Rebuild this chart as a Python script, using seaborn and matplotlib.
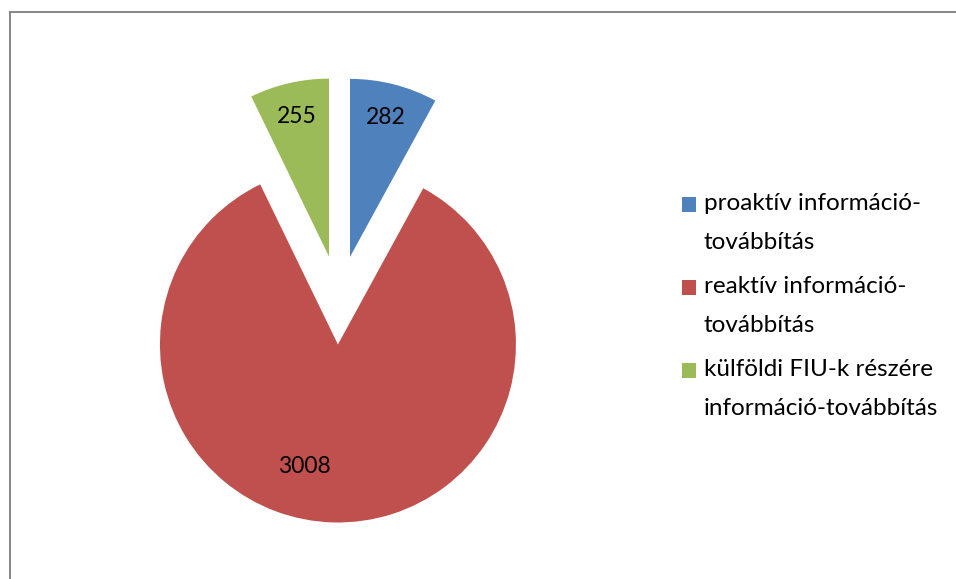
import matplotlib
matplotlib.use("Agg")
import matplotlib.pyplot as plt
import seaborn as sns
import numpy as np
import pandas as pd
from matplotlib.lines import Line2D
from matplotlib.patches import Patch, Rectangle
from matplotlib.legend_handler import HandlerBase

categories = ["proaktív információ-\ntovábbítás",
              "reaktív információ-\ntovábbítás",
              "külföldi FIU-k részére\ninformáció-továbbítás"]
values = [282, 3008, 255]
colors = ["#4F81BD", "#C0504D", "#9BBB59"]

df = pd.DataFrame({"category": categories, "value": values})

sns.set_theme(style="white")
plt.rcParams['font.family'] = ['Lato', 'DejaVu Sans']

W, H = 956, 579
fig = plt.figure(figsize=(W / 100, H / 100), dpi=100)

# pie axes (pixel geometry)
cx, cy_top, R, half = 339, 300, 178, 235
cy = H - cy_top
ax = fig.add_axes([(cx - half) / W, (cy - half) / H, 2 * half / W, 2 * half / H])

total = df["value"].sum()
wedges, texts, autotexts = ax.pie(
    df["value"], colors=colors, startangle=90, counterclock=False,
    explode=[0.25] * len(values), radius=1,
    autopct=lambda p: f"{int(round(p * total / 100))}", pctdistance=0.81,
    wedgeprops=dict(linewidth=0), textprops=dict(fontsize=16.5, color="black"))

# adjust the big slice label (Excel best-fit placement)
w = wedges[1]
ang = np.deg2rad(-105.6)
autotexts[1].set_position((w.center[0] + 0.71 * np.cos(ang), w.center[1] + 0.71 * np.sin(ang)))

lim = half / R
ax.set_xlim(-lim, lim)
ax.set_ylim(-lim, lim)
ax.set_aspect("equal")
ax.axis("off")

LEG_FS = 17.5
LINESP = 2.05


class TopSquare(HandlerBase):
    def create_artists(self, legend, orig_handle, xdescent, ydescent,
                       width, height, fontsize, trans):
        s = 0.6 * fontsize
        shift = 0.76 * fontsize
        y0 = -ydescent + (height - s) / 2 + shift
        r = Rectangle((-xdescent, y0), s, s, facecolor=orig_handle.get_facecolor(),
                      edgecolor="none", transform=trans)
        return [r]


handles = [Patch(facecolor=c, edgecolor="none") for c in colors]
leg = fig.legend(handles, df["category"], loc="upper left",
                 bbox_to_anchor=(660 / W, 1 - 171 / H), frameon=False,
                 fontsize=LEG_FS, handlelength=0.6, handleheight=0.6,
                 handletextpad=0.3, labelspacing=0.96,
                 handler_map={Patch: TopSquare()})
for t in leg.get_texts():
    t.set_linespacing(LINESP)
    t.set_color("black")

# chart frame (left and top edges visible)
fcol = "#868686"
fig.add_artist(Line2D([10 / W, 10 / W], [0, 1 - 12 / H], color=fcol, lw=1.4,
                      transform=fig.transFigure))
fig.add_artist(Line2D([10 / W, 1], [1 - 12 / H, 1 - 12 / H], color=fcol, lw=1.4,
                      transform=fig.transFigure))

fig.savefig("out.png", dpi=100, facecolor="white")
